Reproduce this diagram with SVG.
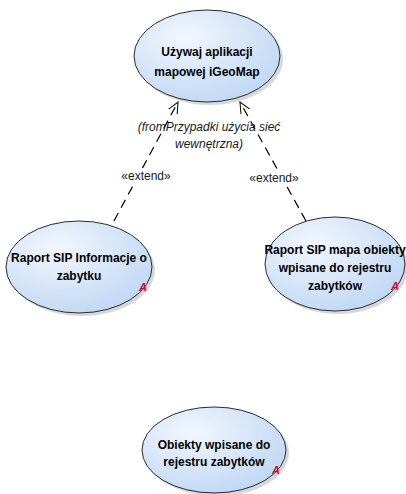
<svg xmlns="http://www.w3.org/2000/svg" width="406" height="494" viewBox="0 0 406 494">
<defs>
<radialGradient id="g" cx="0.35" cy="0.3" r="0.8">
<stop offset="0" stop-color="#f2f7fe"/>
<stop offset="1" stop-color="#bdd5f3"/>
</radialGradient>
<marker id="arr" viewBox="0 0 12 12" refX="11" refY="6" markerWidth="12" markerHeight="12" markerUnits="userSpaceOnUse" orient="auto">
<path d="M0,1 L11,6 L0,11" fill="none" stroke="#000" stroke-width="1"/>
</marker>
</defs>
<style>
.sh{fill:#c8c8c8;opacity:0.7}
.el{fill:url(#g);stroke:#2b2b2b;stroke-width:1}
.t{font-family:"Liberation Sans",Arial,sans-serif;font-size:12px;font-weight:bold;fill:#000;text-anchor:middle}
.a{font-family:"Liberation Sans",Arial,sans-serif;font-size:11px;font-weight:bold;font-style:italic;fill:#e0002a}
.lb{font-family:"Liberation Sans",Arial,sans-serif;font-size:12px;fill:#1a1a1a;text-anchor:middle}
.c{stroke:#000;stroke-width:1.2;stroke-dasharray:9,6;fill:none}
.bg{fill:#fff}
</style>
<g id="connectors">
<line class="c" x1="114" y1="221" x2="178" y2="102" marker-end="url(#arr)"/>
<line class="c" x1="306" y1="221" x2="240" y2="102" marker-end="url(#arr)"/>
<rect class="bg" x="118" y="168" width="56" height="16"/>
<rect class="bg" x="246" y="170" width="56" height="16"/>
<text class="lb" x="146" y="180">«extend»</text>
<text class="lb" x="274" y="182">«extend»</text>
<text class="lb" x="209" y="131" font-style="italic">(fromPrzypadki użycia sieć</text>
<text class="lb" x="209" y="148" font-style="italic">wewnętrzna)</text>
</g>
<g id="node-top">
<ellipse class="sh" cx="210" cy="59" rx="73" ry="46"/>
<ellipse class="el" cx="207" cy="56" rx="73" ry="46"/>
<text class="t" x="207" y="56">Używaj aplikacji</text>
<text class="t" x="207" y="76">mapowej iGeoMap</text>
</g>
<g id="node-left">
<ellipse class="sh" cx="82" cy="270" rx="73" ry="46"/>
<ellipse class="el" cx="79" cy="267" rx="73" ry="46"/>
<text class="t" x="79" y="262">Raport SIP Informacje o</text>
<text class="t" x="79" y="280">zabytku</text>
<text class="a" x="139" y="291">A</text>
</g>
<g id="node-right">
<ellipse class="sh" cx="338" cy="267" rx="70" ry="47"/>
<ellipse class="el" cx="335" cy="264" rx="70" ry="47"/>
<text class="t" x="335" y="254" font-size="11.4">Raport SIP mapa obiekty</text>
<text class="t" x="335" y="272">wpisane do rejestru</text>
<text class="t" x="335" y="290">zabytków</text>
<text class="a" x="391" y="290">A</text>
</g>
<g id="node-bottom">
<ellipse class="sh" cx="217" cy="453" rx="72" ry="43"/>
<ellipse class="el" cx="214" cy="450" rx="72" ry="43"/>
<text class="t" x="214" y="449">Obiekty wpisane do</text>
<text class="t" x="214" y="466">rejestru zabytków</text>
<text class="a" x="272" y="474">A</text>
</g>
</svg>
